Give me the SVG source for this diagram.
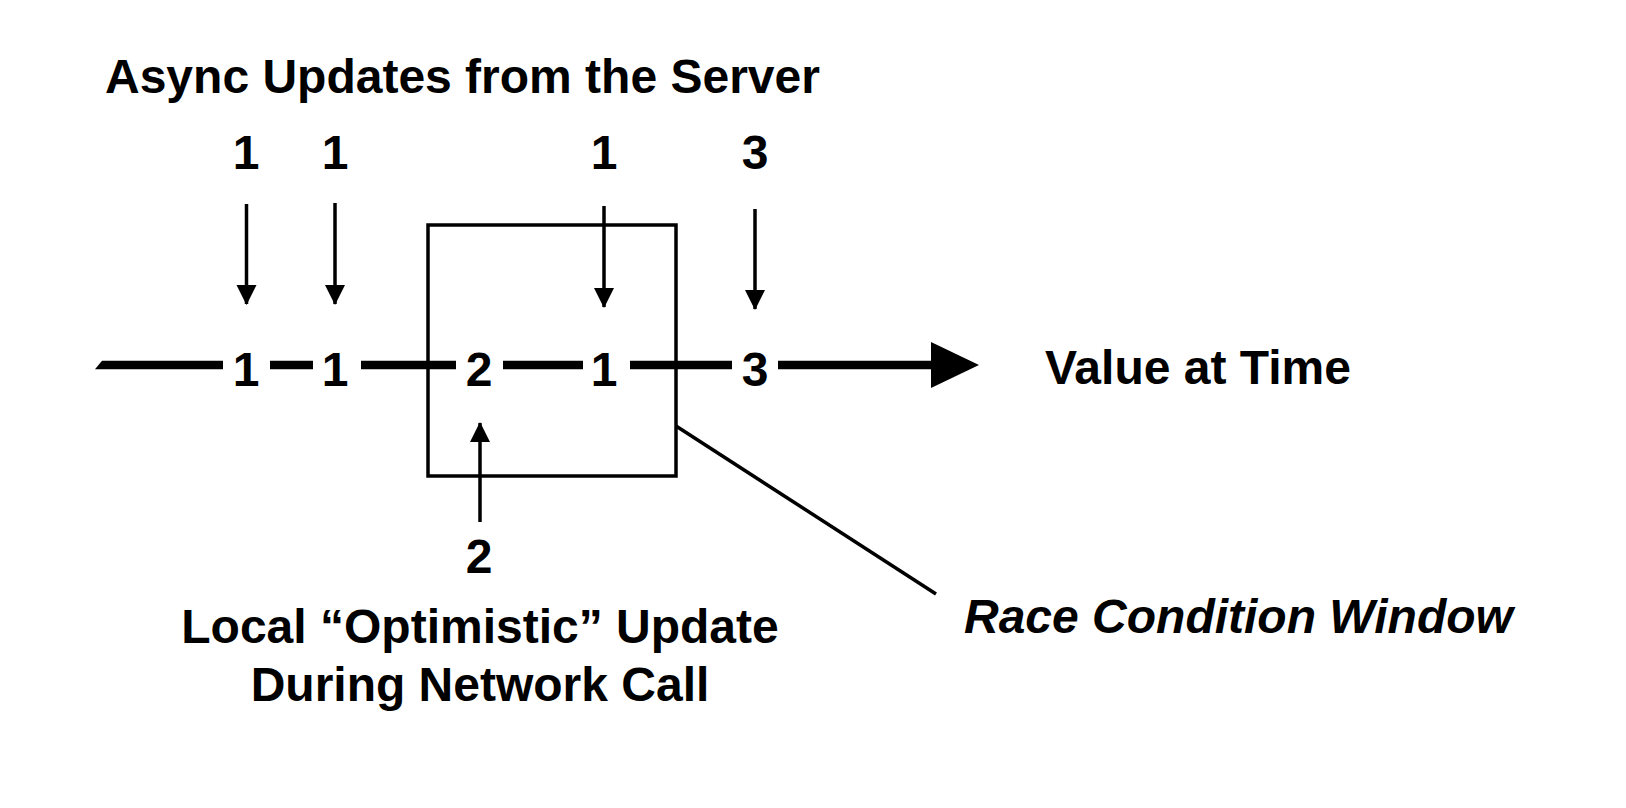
<svg xmlns="http://www.w3.org/2000/svg" width="1626" height="808" viewBox="0 0 1626 808">
<defs>
<style>
text{font-family:"Liberation Sans",Arial,sans-serif;font-weight:bold;font-size:48px;fill:#000}
.c{text-anchor:middle}
.i{font-style:italic}
.thin{stroke:#000;stroke-width:3.5;fill:none}
.tl{stroke:#000;stroke-width:8.5;fill:none}
</style>
<marker id="ah" viewBox="0 0 20 20" refX="19" refY="10" markerWidth="20" markerHeight="20" markerUnits="userSpaceOnUse" orient="auto" overflow="visible">
<path d="M0,0 L20,10 L0,20 Z" fill="#000"/>
</marker>
</defs>
<rect width="1626" height="808" fill="#fff"/>
<g id="title"><text x="105" y="93">Async Updates from the Server</text></g>
<g id="server-values">
<text class="c" x="246" y="169">1</text>
<text class="c" x="335" y="169">1</text>
<text class="c" x="604" y="169">1</text>
<text class="c" x="755" y="169">3</text>
</g>
<g id="race-window"><rect x="428" y="225" width="248" height="251" class="thin"/></g>
<g id="timeline-values">
<text class="c" x="246" y="386">1</text>
<text class="c" x="335" y="386">1</text>
<text class="c" x="479" y="386">2</text>
<text class="c" x="604" y="386">1</text>
<text class="c" x="755" y="386">3</text>
</g>
<g id="connectors">
<path d="M95,369.3 L102,360.7 H223 V369.3 Z" fill="#000"/>
<path class="tl" d="M270,365 H313 M361,365 H456 M503,365 H583 M630,365 H732 M778,365 H935"/>
<path d="M931,342 L979,365 L931,388 Z" fill="#000"/>
<line class="thin" x1="246.5" y1="204" x2="246.5" y2="304" marker-end="url(#ah)"/>
<line class="thin" x1="335" y1="203" x2="335" y2="304" marker-end="url(#ah)"/>
<line class="thin" x1="604" y1="206" x2="604" y2="307" marker-end="url(#ah)"/>
<line class="thin" x1="755" y1="209" x2="755" y2="309" marker-end="url(#ah)"/>
<line class="thin" x1="480" y1="522" x2="480" y2="423" marker-end="url(#ah)"/>
<line class="thin" x1="676" y1="426" x2="936" y2="594"/>
</g>
<g id="value-at-time"><text x="1045" y="384">Value at Time</text></g>
<g id="local-update">
<text class="c" x="479" y="573">2</text>
<text class="c" x="480" y="643">Local “Optimistic” Update</text>
<text class="c" x="480" y="701">During Network Call</text>
</g>
<g id="race-label"><text class="i" x="964" y="633">Race Condition Window</text></g>
</svg>
